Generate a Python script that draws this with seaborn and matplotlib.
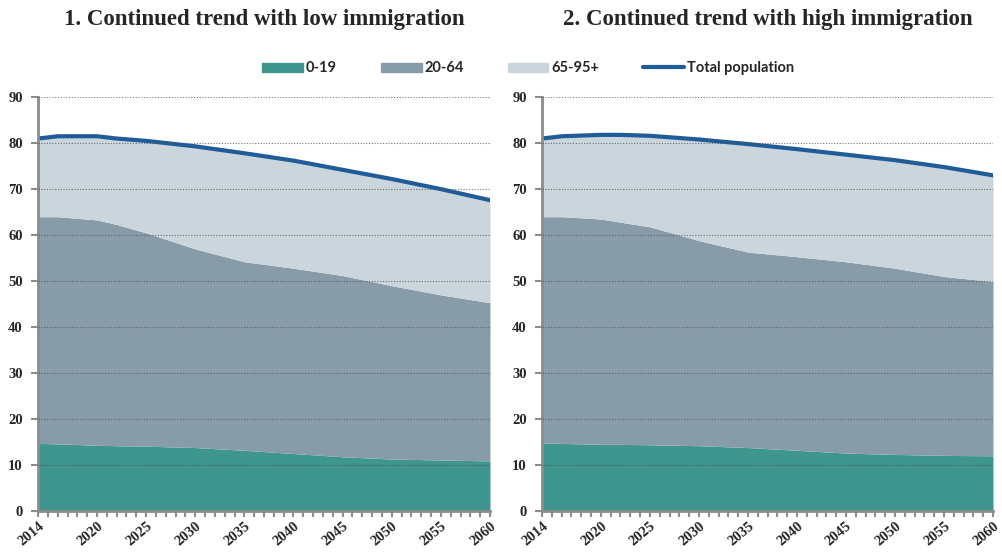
import numpy as np
import pandas as pd
import matplotlib
matplotlib.use("Agg")
import matplotlib.pyplot as plt
import seaborn as sns
from matplotlib.patches import Patch
from matplotlib.lines import Line2D

# Dati (milioni)
years = [2014, 2016, 2020, 2022, 2025, 2030, 2035, 2040, 2045, 2050, 2055, 2060]

low_0_19 = [14.7, 14.6, 14.3, 14.2, 14.1, 13.8, 13.2, 12.5, 11.8, 11.3, 11.1, 10.9]
low_cum_20_64 = [64.0, 64.0, 63.3, 62.3, 60.5, 57.0, 54.2, 52.8, 51.2, 49.0, 47.0, 45.3]
low_total = [81.0, 81.5, 81.5, 81.0, 80.5, 79.3, 77.8, 76.2, 74.2, 72.2, 70.0, 67.6]

high_0_19 = [14.8, 14.7, 14.5, 14.5, 14.4, 14.2, 13.8, 13.2, 12.6, 12.3, 12.1, 12.0]
high_cum_20_64 = [64.0, 64.0, 63.5, 62.8, 61.8, 58.8, 56.3, 55.3, 54.2, 52.8, 51.0, 49.9]
high_total = [81.0, 81.5, 81.8, 81.8, 81.6, 80.8, 79.8, 78.7, 77.5, 76.3, 74.8, 73.0]

titles = ["1. Continued trend with low immigration", "2. Continued trend with high immigration"]
legend_labels = ["0-19", "20-64", "65-95+", "Total population"]
x_labels = [2014, 2020, 2025, 2030, 2035, 2040, 2045, 2050, 2055, 2060]

c_young = "#3f968e"
c_work = "#879ba8"
c_old = "#cad5dc"
c_line = "#1f5c99"

sns.set_theme(style="white")
plt.rcParams['font.family'] = ['Liberation Serif']

fig = plt.figure(figsize=(10.02, 5.6), dpi=100)
ax1 = fig.add_axes([0.038, 0.0875, 0.451, 0.739])
ax2 = fig.add_axes([0.541, 0.0875, 0.450, 0.739])


def draw_panel(ax, young, cum_work, total, title):
    young = np.array(young)
    cum_work = np.array(cum_work)
    total = np.array(total)
    ax.fill_between(years, 0, young, color=c_young, lw=0)
    ax.fill_between(years, young, cum_work, color=c_work, lw=0)
    ax.fill_between(years, cum_work, total, color=c_old, lw=0)
    df = pd.DataFrame({'year': years, 'total': total})
    sns.lineplot(data=df, x='year', y='total', ax=ax, color=c_line, lw=3)
    ax.set_xlim(2014, 2060)
    ax.set_ylim(0, 90)
    ax.set_yticks(range(0, 91, 10))
    ax.set_xticks(x_labels)
    ax.set_xticks(range(2014, 2061), minor=True)
    ax.set_xticklabels([str(x) for x in x_labels], rotation=40, ha='right',
                       rotation_mode='anchor', fontsize=10.5, fontweight='bold')
    for t in ax.get_yticklabels():
        t.set_fontsize(10.5)
        t.set_fontweight('bold')
    ax.set_xlabel("")
    ax.set_ylabel("")
    ax.grid(axis='y', color='#555555', linestyle=(0, (1, 1.5)), lw=0.8, alpha=0.8)
    ax.set_axisbelow(False)
    for s in ['top', 'right']:
        ax.spines[s].set_visible(False)
    for s in ['left', 'bottom']:
        ax.spines[s].set_color('#8c8c8c')
        ax.spines[s].set_linewidth(2)
    ax.tick_params(axis='both', which='both', direction='out', color='#8c8c8c',
                   width=1.5, bottom=True, left=True)
    ax.tick_params(axis='x', which='major', length=4, pad=2)
    ax.tick_params(axis='x', which='minor', length=4)
    ax.tick_params(axis='y', length=5, pad=6)
    ax.set_title(title, fontsize=16.5, fontweight='bold', pad=52)


draw_panel(ax1, low_0_19, low_cum_20_64, low_total, titles[0])
draw_panel(ax2, high_0_19, high_cum_20_64, high_total, titles[1])

handles = [Patch(color=c_young), Patch(color=c_work), Patch(color=c_old),
           Line2D([0], [0], color=c_line, lw=3)]
fig.legend(handles, legend_labels, loc='center', bbox_to_anchor=(0.527, 0.878), ncol=4,
           frameon=False, handlelength=2.8, handleheight=0.6, columnspacing=3.0,
           handletextpad=0.2, prop={'family': 'Lato', 'weight': 'bold', 'size': 10.5})

fig.savefig("out.png", dpi=100)
